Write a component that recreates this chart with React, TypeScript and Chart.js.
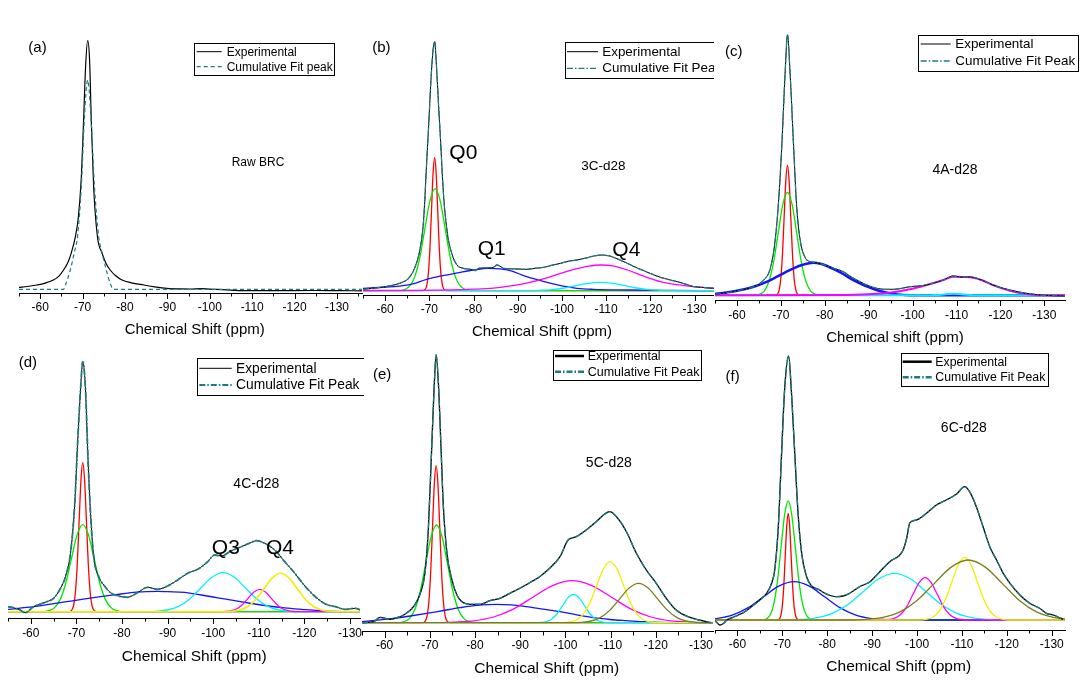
import React, { useEffect, useRef } from 'react';
import { Chart, registerables } from 'chart.js';

Chart.register(...registerables);

type Pt = [number, number];

// ================= DATA (x = chemical shift in ppm, y = intensity, a.u.) =================
// ---- (a) Raw BRC
const aExperimental: Pt[] = [[-55,2],[-57,2.8],[-59.2,4.3],[-61,6],[-63.1,9.3],[-64.5,13.5],[-65.5,19.3],[-66.5,26.5],[-67.3,36],[-68.3,52.6],[-69,72],[-69.7,112],[-70.2,165],[-70.7,222],[-71.2,248.6],[-71.65,229],[-72.05,169],[-72.6,103],[-73.5,52.6],[-74.6,36],[-75.5,26],[-76.5,19.3],[-77.8,13.5],[-79.3,9.3],[-81.5,6.5],[-84.4,4.3],[-87,2.5],[-89.9,1],[-93,0.4],[-95.5,0.3],[-97.8,0.7],[-100,0.2],[-105.7,-1],[-110,-1.4],[-117.5,-1.3],[-125,-1.2],[-130,-1.4],[-136,-1.5]];
const aCumulative: Pt[] = [[-55,0],[-65.5,0],[-66.1,6],[-67.1,19.3],[-68,36],[-68.8,52.6],[-69.7,102.6],[-70.4,169.3],[-71.2,209.3],[-72,169.3],[-72.8,102.6],[-73.8,52.6],[-74.6,36],[-75.6,19.3],[-76.5,6],[-77.3,0],[-136,0]];

// ---- (b) 3C-d28
const bExperimental: Pt[] = [[-55,1.4],[-57.5,2.6],[-60,4],[-62.2,6],[-64.2,9],[-65.3,12.4],[-66.8,24],[-67.9,42],[-68.7,70],[-69.4,128],[-69.8,161],[-70.6,227],[-71.2,249],[-71.6,226],[-72.1,185],[-72.5,154],[-73.2,97],[-74.1,57],[-75.1,37],[-76.2,26],[-77.7,22.4],[-79.3,21.4],[-80.4,20],[-81.1,22.4],[-83,22.8],[-84.5,23.4],[-85.3,25.7],[-86.2,24],[-86.8,22.4],[-89,21.8],[-92.1,21.4],[-94,22.5],[-95.9,23.4],[-97.8,25.5],[-99.7,27.4],[-101.5,29.5],[-103.4,30.7],[-105.3,32.5],[-107.2,34.7],[-109.1,35.7],[-110.5,35],[-111.7,33.4],[-113.2,30.5],[-114.8,27.4],[-116.6,23.5],[-118.5,20],[-120.4,16.5],[-122.3,13.4],[-124.2,11],[-126.1,9],[-128,6.5],[-129.9,4],[-132,3.2],[-134.4,2.4]];
const bRed: Pt[] = [[-55,0],[-68.5,0],[-69.1,1.5],[-69.45,5.8],[-69.8,18],[-70.15,43.2],[-70.5,80.7],[-70.85,117.4],[-71.2,133],[-71.55,117.4],[-71.9,80.7],[-72.25,43.2],[-72.6,18],[-72.95,5.8],[-73.3,1.5],[-73.9,0],[-134.4,0]];
const bGreen: Pt[] = [[-55,0],[-63.5,0],[-64.4,1.1],[-65.55,4.5],[-66.7,13.8],[-67.85,33.1],[-69,61.9],[-70.15,90],[-71.3,102],[-72.45,90],[-73.6,61.9],[-74.75,33.1],[-75.9,13.8],[-77.05,4.5],[-78.2,1.1],[-79.2,0],[-134.4,0]];
const bBlue: Pt[] = [[-55,2.4],[-58.5,3.2],[-62,4],[-66,6.5],[-69.4,11.4],[-73,15],[-77,18.4],[-80,20.7],[-83.4,22.4],[-86,21.8],[-88.3,20],[-92,14],[-96,9],[-99.7,5],[-103.4,2.4],[-107,1.4],[-115,0.7],[-125,0.3],[-134.4,0]];
const bMagenta: Pt[] = [[-55,0.2],[-75,0.8],[-80,1.5],[-84.5,2.6],[-88,4.5],[-92,7.5],[-96,12],[-99.7,17.4],[-103.4,22],[-106,24.5],[-108.7,25.7],[-111.5,24.8],[-114.8,20.7],[-118.5,14.5],[-122.3,9],[-126,6],[-130,4],[-134.4,2.2]];
const bCyan: Pt[] = [[-55,0],[-90,0],[-92.2,0.1],[-94.95,0.4],[-97.7,1.1],[-100.45,2.7],[-103.2,5.1],[-105.95,7.4],[-108.7,8.4],[-111.45,7.4],[-114.2,5.1],[-116.95,2.7],[-119.7,1.1],[-122.45,0.4],[-125.2,0.1],[-128,0],[-134.4,0]];

// ---- (c) 4A-d28
const cExperimental: Pt[] = [[-55,0.9],[-57.5,2.5],[-60,4.6],[-63.8,8.6],[-66.1,15.3],[-67.6,27],[-68.7,55],[-69.5,95.3],[-70.2,148.6],[-71,225.3],[-71.5,260.3],[-72.1,222],[-72.9,148.6],[-73.6,88.6],[-74.4,55],[-75.5,38],[-76.7,33.6],[-78.2,32.6],[-80.5,29.3],[-82.4,26.5],[-84.2,23.6],[-86,18.5],[-88,13.6],[-90,9.5],[-91.8,7],[-93.7,6],[-95.6,6],[-97.5,7],[-99.4,8.6],[-101.3,9.3],[-103.2,10.3],[-105,12.5],[-107,15.3],[-108,17.5],[-109.2,19.3],[-110.5,18.5],[-111.5,18],[-112.6,18.4],[-113.8,18],[-116.1,14.6],[-118.3,10.3],[-120.2,7.5],[-122.1,5.3],[-124,3.5],[-125.9,2],[-127.8,0.9],[-129.7,0],[-134.7,-0.7]];
const cRed: Pt[] = [[-55,0],[-68.6,0],[-69.25,1.4],[-69.63,5.7],[-70,17.6],[-70.38,42.2],[-70.75,78.9],[-71.13,114.7],[-71.5,130],[-71.88,114.7],[-72.25,78.9],[-72.63,42.2],[-73,17.6],[-73.38,5.7],[-73.75,1.4],[-74.4,0],[-134.7,0]];
const cGreen: Pt[] = [[-55,0],[-64.3,0],[-65.2,1.1],[-66.25,4.5],[-67.3,13.9],[-68.35,33.4],[-69.4,62.5],[-70.45,90.9],[-71.5,103],[-72.55,90.9],[-73.6,62.5],[-74.65,33.4],[-75.7,13.9],[-76.75,4.5],[-77.8,1.1],[-78.7,0],[-134.7,0]];
const cBlue: Pt[] = [[-55,1.3],[-57.5,2.8],[-60,4.6],[-63.8,8.6],[-66.5,13],[-69.1,18.6],[-71,23],[-72.9,27],[-75,30.5],[-77.4,32.6],[-79,31.6],[-80.5,29.3],[-82.4,25.5],[-84.2,21.3],[-86,16.5],[-88,12],[-90,8.2],[-91.8,5.3],[-93.7,3],[-95.6,1.3],[-98,0.4],[-101,0],[-134.7,0]];
const cMagenta: Pt[] = [[-55,0],[-85,0.3],[-92,1.5],[-96.4,3.6],[-99.4,6],[-103.2,10.3],[-107,15.3],[-109.2,18.6],[-111.5,18.3],[-113.8,17.6],[-116.1,14.6],[-118.3,10.3],[-120.2,7.2],[-122.1,4.6],[-125.9,1.3],[-129.7,0],[-134.7,0]];
const cCyan: Pt[] = [[-55,0],[-100,0],[-105,0.3],[-108,1.2],[-109.2,1.6],[-110.5,1.2],[-113,0.3],[-118,0],[-134.7,0]];

// ---- (d) 4C-d28
const dExperimental: Pt[] = [[-55,5],[-56.2,4],[-57.5,2],[-58.8,-1],[-60.6,5],[-62,7.5],[-63.5,10],[-65,13.4],[-66.5,23.4],[-67.6,35],[-68.7,58.4],[-69.6,105],[-70.3,171.7],[-70.9,221.7],[-71.4,250],[-72,221.7],[-72.5,158.4],[-73.1,98.4],[-73.8,55],[-74.9,35],[-76,26.7],[-77.5,19],[-79,16],[-81.2,14.4],[-83.4,19],[-85.6,24.4],[-87.8,22.4],[-90,25.7],[-92.2,31.7],[-94.4,38.4],[-96.6,42.4],[-98.8,50],[-100.3,56.7],[-101.8,55.7],[-104,61],[-106.2,65],[-108,68.5],[-109.5,71],[-111.3,68.4],[-113.5,61.7],[-115.7,50],[-117.9,38.4],[-120.1,25.7],[-122.4,15],[-124.6,7.7],[-126.8,5],[-129,2.3],[-131.2,3.4],[-132.6,1]];
const dRed: Pt[] = [[-55,0],[-68.4,0],[-69,1.7],[-69.4,6.5],[-69.8,20.2],[-70.2,48.4],[-70.6,90.4],[-71,131.5],[-71.4,149],[-71.8,131.5],[-72.2,90.4],[-72.6,48.4],[-73,20.2],[-73.4,6.5],[-73.8,1.7],[-74.4,0],[-132.2,0]];
const dGreen: Pt[] = [[-55,0],[-62.9,0],[-63.9,1],[-65.15,3.8],[-66.4,11.8],[-67.65,28.2],[-68.9,52.8],[-70.15,76.8],[-71.4,87],[-72.65,76.8],[-73.9,52.8],[-75.15,28.2],[-76.4,11.8],[-77.65,3.8],[-78.9,1],[-79.9,0],[-132.2,0]];
const dBlue: Pt[] = [[-55,2.3],[-60.6,5],[-64,7.3],[-67.9,10],[-71.5,12.5],[-75.3,15],[-79,17.3],[-82.6,19.4],[-85.5,20.1],[-87.8,20.3],[-90,20],[-93.7,19.4],[-97.4,16.7],[-101,13.9],[-104.7,11],[-108.4,8.2],[-112.1,5.7],[-115.7,3.8],[-119.4,2.3],[-123,1],[-126.8,0.3],[-132.2,0]];
const dCyan: Pt[] = [[-55,0],[-86,0],[-87.5,0.4],[-89.95,1.7],[-92.4,5.3],[-94.85,12.7],[-97.3,23.7],[-99.75,34.4],[-102.2,39],[-104.65,34.4],[-107.1,23.7],[-109.55,12.7],[-112,5.3],[-114.45,1.7],[-116.9,0.4],[-118.5,0],[-132.2,0]];
const dMagenta: Pt[] = [[-55,0],[-101.5,0],[-102.7,0.2],[-103.95,1],[-105.2,3],[-106.45,7.3],[-107.7,13.6],[-108.95,19.8],[-110.2,22.4],[-111.45,19.8],[-112.7,13.6],[-113.95,7.3],[-115.2,3],[-116.45,1],[-117.7,0.2],[-118.9,0],[-132.2,0]];
const dYellow: Pt[] = [[-55,0],[-102.5,0],[-104,0.4],[-105.8,1.7],[-107.6,5.2],[-109.4,12.5],[-111.2,23.3],[-113,33.9],[-114.8,38.4],[-116.6,33.9],[-118.4,23.3],[-120.2,12.5],[-122,5.2],[-123.8,1.7],[-125.6,0.4],[-127.2,0],[-132.2,0]];

// ---- (e) 5C-d28
const eExperimental: Pt[] = [[-55,0],[-57.6,1],[-59,5.4],[-60,4.5],[-61.2,3.4],[-62.7,5],[-64.2,7.7],[-66.4,16],[-67.9,29.4],[-69,52.7],[-69.7,96],[-70.4,172.7],[-71,239.4],[-71.4,267.7],[-71.9,239.4],[-72.5,172.7],[-73,116],[-73.8,69.4],[-74.9,42.7],[-76,27.7],[-77.1,21],[-78.9,18.4],[-81.1,18.4],[-83.3,22],[-85.5,24.4],[-87.7,29.4],[-89.9,34.4],[-92.1,40],[-94.3,46],[-96.5,54.4],[-98.8,66],[-100.6,82.7],[-102.4,86],[-104.6,92.7],[-106.8,101],[-108.7,108.7],[-109.8,111],[-111.3,106],[-113.5,91],[-115.7,69.4],[-117.9,52.7],[-120.1,39.4],[-122.3,24.4],[-124.5,12.7],[-127.1,6],[-129.6,2.7],[-132.2,0]];
const eRed: Pt[] = [[-55,0],[-68.4,0],[-69,1.7],[-69.4,6.9],[-69.8,21.2],[-70.2,51],[-70.6,95.2],[-71,138.5],[-71.4,157],[-71.8,138.5],[-72.2,95.2],[-72.6,51],[-73,21.2],[-73.4,6.9],[-73.8,1.7],[-74.4,0],[-132.7,0]];
const eGreen: Pt[] = [[-55,0],[-63.3,0],[-64.3,1.1],[-65.5,4.3],[-66.7,13.2],[-67.9,31.7],[-69.1,59.3],[-70.3,86.2],[-71.5,97.7],[-72.7,86.2],[-73.9,59.3],[-75.1,31.7],[-76.3,13.2],[-77.5,4.3],[-78.7,1.1],[-79.7,0],[-132.7,0]];
const eBlue: Pt[] = [[-55,1],[-58.5,2.5],[-62,4.3],[-65.7,6.7],[-69.3,9.3],[-73,12.2],[-76.7,15],[-80.5,17.3],[-84.8,18.4],[-88,17.8],[-91.4,16],[-95,13.6],[-98.8,11],[-102.5,7.8],[-106.1,5],[-109.8,3.2],[-113.5,2],[-117,1],[-120.8,0.3],[-132.7,0]];
const eMagenta: Pt[] = [[-55,0],[-72,0],[-75.4,0.5],[-79.75,1.8],[-84.1,5.7],[-88.45,13.6],[-92.8,25.5],[-97.15,37.1],[-101.5,42],[-105.85,37.1],[-110.2,25.5],[-114.55,13.6],[-118.9,5.7],[-123.25,1.8],[-127.6,0.5],[-131,0],[-132.7,0]];
const eCyan: Pt[] = [[-55,0],[-93.4,0],[-94.6,0.3],[-95.8,1.2],[-97,3.8],[-98.2,9.2],[-99.4,17.2],[-100.6,25.1],[-101.8,28.4],[-103,25.1],[-104.2,17.2],[-105.4,9.2],[-106.6,3.8],[-107.8,1.2],[-109,0.3],[-110.2,0],[-132.7,0]];
const eYellow: Pt[] = [[-55,0],[-99.4,0],[-100.9,0.7],[-102.4,2.7],[-103.9,8.3],[-105.4,19.8],[-106.9,37],[-108.4,53.8],[-109.9,61],[-111.4,53.8],[-112.9,37],[-114.4,19.8],[-115.9,8.3],[-117.4,2.7],[-118.9,0.7],[-120.4,0],[-132.7,0]];
const eOlive: Pt[] = [[-55,0],[-101.5,0],[-103.6,0.4],[-105.7,1.7],[-107.8,5.3],[-109.9,12.8],[-112,23.9],[-114.1,34.8],[-116.2,39.4],[-118.3,34.8],[-120.4,23.9],[-122.5,12.8],[-124.6,5.3],[-126.7,1.7],[-128.8,0.4],[-130.9,0],[-132.7,0]];

// ---- (f) 6C-d28
const fExperimental: Pt[] = [[-54.6,0],[-55.3,-2],[-56.1,-5],[-57,-3],[-57.6,0],[-59,2.7],[-60.2,5],[-61.3,7.3],[-62.2,10],[-63.1,13.3],[-65,20],[-66.5,26.7],[-67.6,36.7],[-68.3,50],[-69.1,93.3],[-69.8,163.3],[-70.5,230],[-71.4,264],[-72,230],[-72.8,163.3],[-73.5,106.7],[-74.3,66.7],[-75.4,43.3],[-76.5,34],[-78,30.7],[-79.8,26],[-82,23.3],[-83.5,24],[-85,26.7],[-87.2,33.3],[-89.5,38.3],[-91.7,48.3],[-93.9,58.3],[-96.9,70],[-97.7,82],[-98.4,97.3],[-99.9,100],[-102.1,106.7],[-104.3,115],[-106.5,120],[-108.8,126],[-110.6,133.3],[-111.7,128.3],[-113.2,113.3],[-114.7,93.3],[-116.2,73.3],[-117.7,60],[-119.2,46.7],[-120.7,36.7],[-122.9,25],[-125.1,16.7],[-127.3,11.7],[-128.8,6.7],[-130.3,5],[-132.5,0.7]];
const fRed: Pt[] = [[-55,0],[-68.8,0],[-69.35,1.2],[-69.68,4.7],[-70,14.4],[-70.33,34.6],[-70.65,64.7],[-70.98,94.2],[-71.3,106.7],[-71.63,94.2],[-71.95,64.7],[-72.28,34.6],[-72.6,14.4],[-72.93,4.7],[-73.25,1.2],[-73.8,0],[-132.9,0]];
const fGreen: Pt[] = [[-55,0],[-65.7,0],[-66.5,1.3],[-67.3,5.2],[-68.1,16.1],[-68.9,38.6],[-69.7,72.2],[-70.5,105],[-71.3,119],[-72.1,105],[-72.9,72.2],[-73.7,38.6],[-74.5,16.1],[-75.3,5.2],[-76.1,1.3],[-76.9,0],[-132.9,0]];
const fBlue: Pt[] = [[-52.2,0.4],[-55.6,1.7],[-59,5.2],[-62.4,12.4],[-65.8,23.2],[-69.2,33.8],[-72.6,38.3],[-76,33.8],[-79.4,23.2],[-82.8,12.4],[-86.2,5.2],[-89.6,1.7],[-93,0.4],[-96.4,0],[-132.9,0]];
const fCyan: Pt[] = [[-55,0],[-70.5,0],[-74,0.5],[-77.5,2.1],[-81,6.3],[-84.5,15.2],[-88,28.3],[-91.5,41.2],[-95,46.7],[-98.5,41.2],[-102,28.3],[-105.5,15.2],[-109,6.3],[-112.5,2.1],[-116,0.5],[-119.5,0],[-132.9,0]];
const fMagenta: Pt[] = [[-55,0],[-92.3,0],[-93.7,0.5],[-95.05,1.9],[-96.4,5.7],[-97.75,13.7],[-99.1,25.7],[-100.45,37.3],[-101.8,42.3],[-103.15,37.3],[-104.5,25.7],[-105.85,13.7],[-107.2,5.7],[-108.55,1.9],[-109.9,0.5],[-111.3,0],[-132.9,0]];
const fYellow: Pt[] = [[-55,0],[-100.6,0],[-102.05,0.7],[-103.48,2.8],[-104.9,8.5],[-106.33,20.4],[-107.75,38],[-109.18,55.3],[-110.6,62.7],[-112.03,55.3],[-113.45,38],[-114.88,20.4],[-116.3,8.5],[-117.73,2.8],[-119.15,0.7],[-120.6,0],[-132.9,0]];
const fOlive: Pt[] = [[-55,0],[-84.8,0],[-88.6,0.7],[-92.4,2.6],[-96.2,8.1],[-100,19.5],[-103.8,36.4],[-107.6,52.9],[-111.4,60],[-115.2,52.9],[-119,36.4],[-122.8,19.5],[-126.6,8.1],[-130.4,2.6],[-134.2,0.7]];

// ================= STYLE / LAYOUT =================
const FONT = '"Liberation Sans", Arial, Helvetica, sans-serif';
const TEAL = '#1f7c7c';
const RED = '#ff0000';
const GREEN = '#00e600';
const BLUE = '#1414ff';
const MAGENTA = '#ff00ff';
const CYAN = '#00f0ff';
const YELLOW = '#f0f000';
const OLIVE = '#7d7d1e';
const DASHDOT = [6, 2, 1.5, 2];

interface LegendSpec { box: [number, number, number, number]; rows: [number, number]; line: [number, number]; textX: number; size: number; widths: [number, number]; }
interface TextSpec { text: string; x: number; y: number; size: number; }
interface CompSpec { data: Pt[]; color: string; width?: number; }
interface PanelSpec {
  clip: [number, number, number, number];
  left: number; top: number; width: number; height: number;
  axisY: number; baseY: number; xMin: number; tickPad: number;
  title: TextSpec;
  exp: Pt[]; fit: Pt[]; fitLabel: string; fitDash: number[]; fitWidth: number; expWidth: number;
  comps: CompSpec[]; legend: LegendSpec; texts: TextSpec[];
}

const PANELS: PanelSpec[] = [
  {
    clip: [0, 0, 362.5, 350], left: 19, top: 20, width: 343, height: 319,
    axisY: 293.3, baseY: 289.3, xMin: -135.9, tickPad: 7.2,
    title: { text: 'Chemical Shift (ppm)', x: 194.7, y: 330, size: 15 },
    exp: aExperimental, fit: aCumulative, fitLabel: 'Cumulative Fit peak', fitDash: [4, 3], fitWidth: 1.2, expWidth: 1.2,
    comps: [],
    legend: { box: [194, 43.3, 334.3, 75], rows: [51.7, 66.7], line: [196.7, 221.7], textX: 226.7, size: 12, widths: [1, 1.2] },
    texts: [{ text: '(a)', x: 37.5, y: 48, size: 15 }, { text: 'Raw BRC', x: 258, y: 163, size: 12 }],
  },
  {
    clip: [360, 0, 713.5, 350], left: 363, top: 20, width: 351, height: 321,
    axisY: 295, baseY: 290.7, xMin: -134.4, tickPad: 7.8,
    title: { text: 'Chemical Shift (ppm)', x: 542, y: 331.7, size: 15 },
    exp: bExperimental, fit: bExperimental, fitLabel: 'Cumulative Fit Peak', fitDash: DASHDOT, fitWidth: 1.3, expWidth: 1,
    comps: [
      { data: bMagenta, color: MAGENTA }, { data: bCyan, color: CYAN }, { data: bBlue, color: BLUE },
      { data: bGreen, color: GREEN }, { data: bRed, color: RED },
    ],
    legend: { box: [565, 41.7, 740, 77.3], rows: [51.7, 68.3], line: [567, 598], textX: 602.3, size: 13.4, widths: [1, 1.3] },
    texts: [
      { text: '(b)', x: 381.3, y: 48.3, size: 15 }, { text: 'Q0', x: 463.3, y: 153.3, size: 21 },
      { text: 'Q1', x: 491.7, y: 249.3, size: 21 }, { text: 'Q4', x: 626.3, y: 250, size: 21 },
      { text: '3C-d28', x: 603.3, y: 166, size: 13.5 },
    ],
  },
  {
    clip: [713.5, 0, 1092, 350], left: 715, top: 20, width: 350, height: 327,
    axisY: 300, baseY: 295.3, xMin: -134.7, tickPad: 8.8,
    title: { text: 'Chemical shift (ppm)', x: 895, y: 338, size: 15 },
    exp: cExperimental, fit: cExperimental, fitLabel: 'Cumulative Fit Peak', fitDash: DASHDOT, fitWidth: 1.3, expWidth: 1,
    comps: [
      { data: cMagenta, color: MAGENTA, width: 2 }, { data: cCyan, color: CYAN, width: 2 }, { data: cBlue, color: BLUE, width: 2.5 },
      { data: cGreen, color: GREEN }, { data: cRed, color: RED },
    ],
    legend: { box: [918.3, 35, 1078.3, 70.7], rows: [44, 61], line: [920.7, 950.7], textX: 955.3, size: 13.4, widths: [1, 1.3] },
    texts: [{ text: '(c)', x: 733.7, y: 51.7, size: 15 }, { text: '4A-d28', x: 955, y: 170, size: 14 }],
  },
  {
    clip: [0, 340, 364, 684], left: 8, top: 345, width: 352, height: 321,
    axisY: 618.3, baseY: 611.7, xMin: -132.2, tickPad: 7.8,
    title: { text: 'Chemical Shift (ppm)', x: 194.2, y: 656.7, size: 15.5 },
    exp: dExperimental, fit: dExperimental, fitLabel: 'Cumulative Fit Peak', fitDash: DASHDOT, fitWidth: 1.8, expWidth: 1,
    comps: [
      { data: dYellow, color: YELLOW, width: 1.6 }, { data: dMagenta, color: MAGENTA }, { data: dCyan, color: CYAN },
      { data: dBlue, color: BLUE }, { data: dGreen, color: GREEN }, { data: dRed, color: RED },
    ],
    legend: { box: [197.3, 358.3, 372, 395], rows: [368.3, 385], line: [199.3, 231.7], textX: 236, size: 13.8, widths: [1, 2.2] },
    texts: [
      { text: '(d)', x: 27.8, y: 362.7, size: 15 }, { text: '4C-d28', x: 256.3, y: 484, size: 14 },
      { text: 'Q3', x: 225.8, y: 548.3, size: 21 }, { text: 'Q4', x: 280, y: 548.3, size: 21 },
    ],
  },
  {
    clip: [360, 340, 713.5, 684], left: 362, top: 345, width: 351, height: 332,
    axisY: 631.7, baseY: 622.7, xMin: -132.65, tickPad: 6.8,
    title: { text: 'Chemical Shift (ppm)', x: 546.7, y: 668.3, size: 15.5 },
    exp: eExperimental, fit: eExperimental, fitLabel: 'Cumulative Fit Peak', fitDash: DASHDOT, fitWidth: 1.4, expWidth: 1.3,
    comps: [
      { data: eOlive, color: OLIVE }, { data: eYellow, color: YELLOW }, { data: eCyan, color: CYAN },
      { data: eMagenta, color: MAGENTA }, { data: eBlue, color: BLUE }, { data: eGreen, color: GREEN }, { data: eRed, color: RED },
    ],
    legend: { box: [553.3, 350, 701.7, 380], rows: [356, 371.7], line: [555, 584], textX: 587.7, size: 12.5, widths: [2.5, 2.5] },
    texts: [{ text: '(e)', x: 382.2, y: 375, size: 15 }, { text: '5C-d28', x: 608.8, y: 462.7, size: 14 }],
  },
  {
    clip: [713.5, 340, 1092, 684], left: 715, top: 345, width: 350, height: 331,
    axisY: 630, baseY: 620, xMin: -132.95, tickPad: 7.8,
    title: { text: 'Chemical Shift (ppm)', x: 898.7, y: 666.7, size: 15.5 },
    exp: fExperimental, fit: fExperimental, fitLabel: 'Cumulative Fit Peak', fitDash: DASHDOT, fitWidth: 1.4, expWidth: 1.3,
    comps: [
      { data: fOlive, color: OLIVE }, { data: fYellow, color: YELLOW }, { data: fMagenta, color: MAGENTA },
      { data: fCyan, color: CYAN }, { data: fBlue, color: BLUE }, { data: fGreen, color: GREEN }, { data: fRed, color: RED },
    ],
    legend: { box: [901, 353.3, 1048.3, 386.7], rows: [361.7, 377.3], line: [902.7, 931.7], textX: 935.3, size: 12.3, widths: [2.5, 2.5] },
    texts: [{ text: '(f)', x: 732.7, y: 376.7, size: 15 }, { text: '6C-d28', x: 963.8, y: 428.3, size: 14 }],
  },
];

function Panel({ spec }: { spec: PanelSpec }) {
  const ref = useRef<HTMLCanvasElement>(null);
  const canvasW = Math.ceil(spec.clip[2] - spec.left);
  useEffect(() => {
    const s = spec;
    const canvas = ref.current;
    if (!canvas) return;
    const L = s.left;
    const T = s.top;
    const areaBottom = s.axisY - T;
    const padBottom = s.height - areaBottom - 14.4 - 2 * s.tickPad;
    const padRight = Math.max(0, canvasW - s.width);
    const toXY = (d: Pt[]) => d.map(([x, y]) => ({ x, y }));
    const base = { pointRadius: 0, pointHoverRadius: 0, fill: false, cubicInterpolationMode: 'monotone' };
    const datasets: any[] = [
      { ...base, label: s.fitLabel, data: toXY(s.fit), borderColor: TEAL, borderWidth: s.fitWidth, borderDash: s.fitDash },
      { ...base, label: 'Experimental', data: toXY(s.exp), borderColor: '#000000', borderWidth: s.expWidth },
      ...s.comps.map((c, i) => ({ ...base, label: 'Peak ' + (i + 1), data: toXY(c.data), borderColor: c.color, borderWidth: c.width ?? 1.3 })),
    ];

    const deco = {
      id: 'deco',
      afterDraw(chart: any) {
        const ctx: CanvasRenderingContext2D = chart.ctx;
        const xs = chart.scales.x;
        const b = Math.round(chart.chartArea.bottom);
        ctx.save();
        ctx.setLineDash([]);
        ctx.strokeStyle = '#000';
        ctx.lineWidth = 1;
        for (let v = -55; v >= xs.min - 1e-6; v -= 5) {
          const px = Math.round(xs.getPixelForValue(v)) + 0.5;
          const len = v % 10 === 0 ? 6 : 3.5;
          ctx.beginPath();
          ctx.moveTo(px, b);
          ctx.lineTo(px, b + len);
          ctx.stroke();
        }
        // axis title
        ctx.fillStyle = '#000';
        ctx.textAlign = 'center';
        ctx.textBaseline = 'middle';
        ctx.font = `${s.title.size}px ${FONT}`;
        ctx.fillText(s.title.text, s.title.x - L, s.title.y - T);
        // legend box
        const lg = s.legend;
        ctx.strokeStyle = '#000';
        ctx.lineWidth = 1;
        ctx.strokeRect(Math.round(lg.box[0] - L) + 0.5, Math.round(lg.box[1] - T) + 0.5,
          Math.round(lg.box[2] - lg.box[0]), Math.round(lg.box[3] - lg.box[1]));
        const rows = [
          { label: datasets[1].label, color: '#000000', dash: [] as number[], w: lg.widths[0] },
          { label: datasets[0].label, color: TEAL, dash: s.fitDash, w: lg.widths[1] },
        ];
        ctx.font = `${lg.size}px ${FONT}`;
        ctx.textAlign = 'left';
        ctx.textBaseline = 'middle';
        rows.forEach((r, i) => {
          const y = lg.rows[i] - T;
          ctx.strokeStyle = r.color;
          ctx.lineWidth = r.w;
          ctx.setLineDash(r.dash);
          ctx.beginPath();
          ctx.moveTo(lg.line[0] - L, y);
          ctx.lineTo(lg.line[1] - L, y);
          ctx.stroke();
          ctx.setLineDash([]);
          ctx.fillStyle = '#000';
          ctx.fillText(r.label, lg.textX - L, y + 0.5);
        });
        // annotations
        ctx.textAlign = 'center';
        ctx.textBaseline = 'middle';
        ctx.fillStyle = '#000';
        s.texts.forEach((t) => {
          ctx.font = `${t.size}px ${FONT}`;
          ctx.fillText(t.text, t.x - L, t.y - T);
        });
        ctx.restore();
      },
    };

    const chart = new Chart(canvas, {
      type: 'line',
      data: { datasets },
      options: {
        animation: false,
        responsive: false,
        devicePixelRatio: 1,
        events: [],
        layout: { padding: { left: 0, top: 0, right: padRight, bottom: padBottom } },
        plugins: { legend: { display: false }, tooltip: { enabled: false } },
        scales: {
          x: {
            type: 'linear',
            reverse: true,
            min: s.xMin,
            max: -55,
            grid: { display: false, drawTicks: false },
            border: { display: true, color: '#000', width: 1 },
            ticks: {
              stepSize: 10,
              includeBounds: false,
              autoSkip: false,
              maxRotation: 0,
              color: '#000',
              padding: s.tickPad,
              font: { family: FONT, size: 12 },
              callback: (v: any) => String(v),
            },
            title: { display: false },
            afterFit: (sc: any) => { sc.paddingLeft = 0; sc.paddingRight = 0; },
          },
          y: { display: false, min: s.baseY - s.axisY, max: s.baseY - T },
        },
      } as any,
      plugins: [deco],
    });
    return () => chart.destroy();
  }, [spec, canvasW]);

  const [cl, ct, cr, cb] = spec.clip;
  return (
    <div style={{ position: 'absolute', left: cl, top: ct, width: cr - cl, height: cb - ct, overflow: 'hidden' }}>
      <canvas
        ref={ref}
        width={canvasW}
        height={spec.height}
        style={{ position: 'absolute', left: spec.left - cl, top: spec.top - ct, width: canvasW, height: spec.height }}
      />
    </div>
  );
}

export default function App() {
  return (
    <div style={{ position: 'absolute', left: 0, top: 0, width: 1092, height: 684, background: '#ffffff', overflow: 'hidden' }}>
      {PANELS.map((p, i) => (
        <Panel key={i} spec={p} />
      ))}
    </div>
  );
}
